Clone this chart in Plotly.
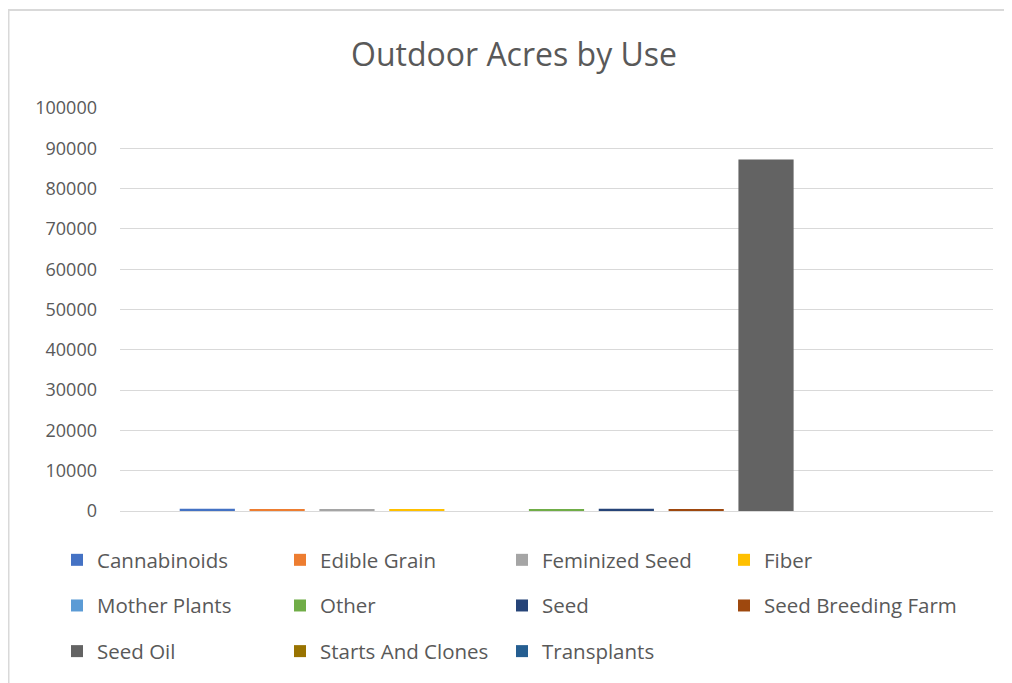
import plotly.graph_objects as go

categories = ["Outdoor"]
series_names = ["Cannabinoids", "Edible Grain", "Feminized Seed", "Fiber",
                "Mother Plants", "Other", "Seed", "Seed Breeding Farm",
                "Seed Oil", "Starts And Clones", "Transplants"]
series_values = [550, 500, 450, 450, 0, 500, 550, 500, 87200, 0, 0]
series_colors = ["#4472C4", "#ED7D31", "#A5A5A5", "#FFC000", "#5B9BD5",
                 "#70AD47", "#264478", "#9E480E", "#636363", "#997300", "#255E91"]
y_ticks = [0, 10000, 20000, 30000, 40000, 50000, 60000, 70000, 80000, 90000, 100000]

# page is rendered with an 8px body margin, so figure coords = screen - 8
W, H = 1004, 675
ml, mr, mt, mb = 112, 19, 100, 172
pw = W - ml - mr
ph = H - mt - mb

legend_names = ["legend", "legend2", "legend3", "legend4"]

fig = go.Figure()
for i, (name, val, col) in enumerate(zip(series_names, series_values, series_colors)):
    fig.add_trace(go.Bar(name=name, x=categories, y=[val],
                         marker=dict(color=col, line=dict(width=0)),
                         legend=legend_names[i % 4], legendgroup=name))

col_x = [49, 272, 494, 716]
legend_top = 532
legend_font = dict(family="Open Sans", size=20.5, color="#595959")
leg_common = dict(orientation="v", xref="container", yref="container",
                  y=1 - legend_top / H, xanchor="left", yanchor="top",
                  traceorder="grouped", tracegroupgap=16,
                  font=legend_font, itemwidth=30, itemclick=False,
                  bgcolor="rgba(0,0,0,0)")

fig.update_layout(
    width=W, height=H,
    margin=dict(l=ml, r=mr, t=mt, b=mb, autoexpand=False),
    paper_bgcolor="white", plot_bgcolor="white",
    barmode="group", bargap=0.12, bargroupgap=0.21,
    title=dict(text="Outdoor Acres by Use", xref="container", x=506 / W, xanchor="center",
               yref="container", y=1 - 47 / H, yanchor="middle",
               font=dict(family="Open Sans", size=32, color="#595959")),
    font=dict(family="Open Sans", color="#595959"),
    showlegend=True,
    legend=dict(x=col_x[0] / W, **leg_common),
    legend2=dict(x=col_x[1] / W, **leg_common),
    legend3=dict(x=col_x[2] / W, **leg_common),
    legend4=dict(x=col_x[3] / W, **leg_common),
    xaxis=dict(showticklabels=False, showgrid=False, zeroline=False, showline=False, ticks=""),
    yaxis=dict(range=[0, 100000], tickvals=y_ticks, ticktext=[str(v) for v in y_ticks],
               showgrid=True, gridcolor="#D9D9D9", gridwidth=1, zeroline=True,
               zerolinecolor="#D9D9D9", zerolinewidth=1, showline=False, ticks="",
               ticklabelstandoff=22, automargin=False,
               tickfont=dict(family="Open Sans", size=18, color="#595959")),
    shapes=[dict(type="rect", xref="paper", yref="paper",
                 x0=(0.5 - ml) / pw, x1=(W + 20 - ml) / pw,
                 y0=-(mb + 20) / ph, y1=(H - mb - 2) / ph,
                 line=dict(color="#D9D9D9", width=2), fillcolor="rgba(0,0,0,0)", layer="below")],
)

fig.write_html("out.html")
